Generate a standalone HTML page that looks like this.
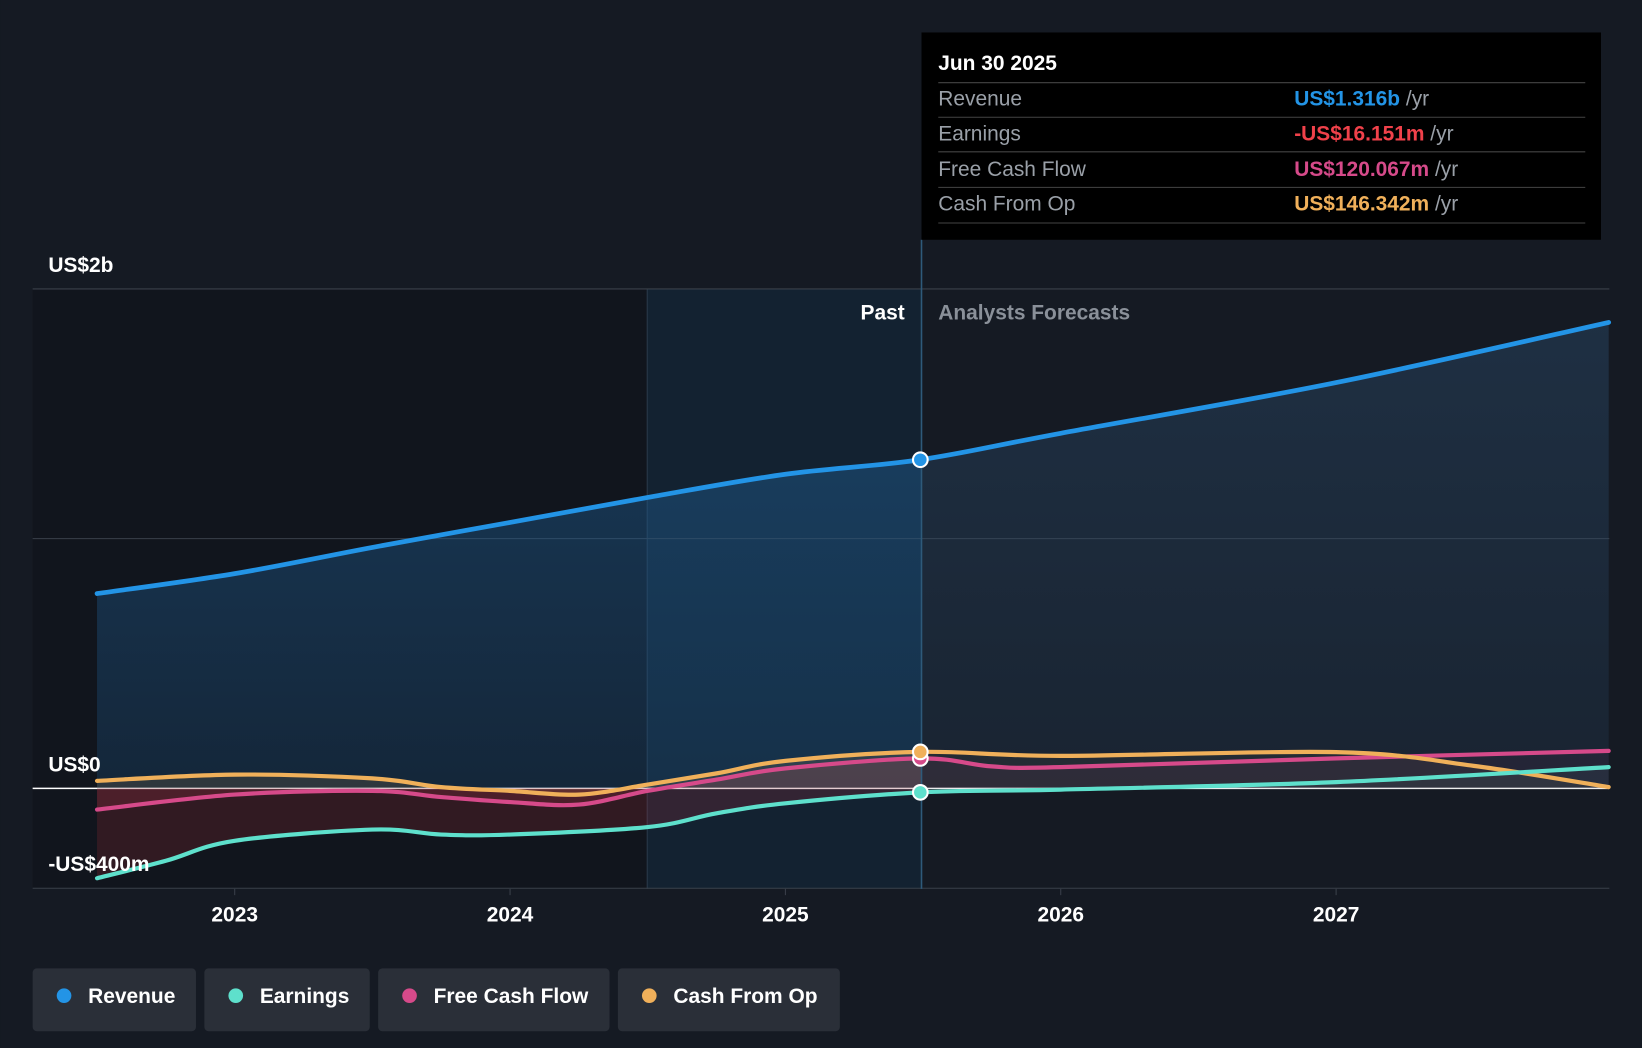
<!DOCTYPE html>
<html><head><meta charset="utf-8"><style>
html,body{margin:0;padding:0;background:#151a23;}
svg{display:block;font-family:"Liberation Sans",sans-serif;}
</style></head><body>
<svg id="chart" width="1642" height="1048" viewBox="0 0 1568 1001" xmlns="http://www.w3.org/2000/svg">
<defs>
<linearGradient id="revPast" x1="0" y1="0" x2="0" y2="1"><stop offset="0" stop-color="#1e5b8f" stop-opacity="0.55"/><stop offset="1" stop-color="#1e5b8f" stop-opacity="0.25"/></linearGradient>
<linearGradient id="revFut" x1="0" y1="0" x2="0" y2="1"><stop offset="0" stop-color="#2a4a6a" stop-opacity="0.45"/><stop offset="1" stop-color="#2a4a6a" stop-opacity="0.2"/></linearGradient>
<clipPath id="pastClip"><rect x="0" y="0" width="880" height="1001"/></clipPath>
<clipPath id="futClip"><rect x="880" y="0" width="700" height="1001"/></clipPath>
</defs>
<rect x="0" y="0" width="1568" height="1001" fill="#151a23"/>
<rect x="31" y="276" width="587" height="573" fill="#11151d"/>
<rect x="618" y="276" width="262" height="573" fill="#13283b" opacity="0.6"/>
<line x1="618" y1="276" x2="618" y2="849" stroke="#2a3a4a" stroke-width="1"/>
<g id="grid"></g>
<g id="areas"></g>
<g id="lines"></g>
<line x1="880" y1="229" x2="880" y2="849" stroke="#2e5a7a" stroke-width="1.5"/>
<text x="864" y="305" fill="#ffffff" font-size="20" font-weight="bold" text-anchor="end">Past</text>
<text x="896" y="305" fill="#8a9099" font-size="20" font-weight="bold">Analysts Forecasts</text>
<g id="dots"></g>
<g id="xticks"></g>
<text x="46" y="260" fill="#fff" font-size="20" font-weight="bold">US$2b</text>
<text x="46" y="737" fill="#fff" font-size="20" font-weight="bold">US$0</text>
<text x="46" y="832" fill="#fff" font-size="20" font-weight="bold">-US$400m</text>
<g>
<rect x="880" y="31" width="649" height="198" fill="#000"/>
<text x="896" y="67" fill="#fff" font-size="20" font-weight="bold">Jun 30 2025</text>
<line x1="896" y1="79" x2="1514" y2="79" stroke="#444"/>
<text x="896" y="101" fill="#9aa0a8" font-size="20">Revenue</text>
<text x="1236" y="101" font-size="20"><tspan fill="#2394e6" font-weight="bold">US$1.316b</tspan><tspan fill="#9aa0a8"> /yr</tspan></text>
<line x1="896" y1="112" x2="1514" y2="112" stroke="#444"/>
<text x="896" y="134" fill="#9aa0a8" font-size="20">Earnings</text>
<text x="1236" y="134" font-size="20"><tspan fill="#f0414a" font-weight="bold">-US$16.151m</tspan><tspan fill="#9aa0a8"> /yr</tspan></text>
<line x1="896" y1="145" x2="1514" y2="145" stroke="#444"/>
<text x="896" y="168" fill="#9aa0a8" font-size="20">Free Cash Flow</text>
<text x="1236" y="168" font-size="20"><tspan fill="#d64a8a" font-weight="bold">US$120.067m</tspan><tspan fill="#9aa0a8"> /yr</tspan></text>
<line x1="896" y1="179" x2="1514" y2="179" stroke="#444"/>
<text x="896" y="201" fill="#9aa0a8" font-size="20">Cash From Op</text>
<text x="1236" y="201" font-size="20"><tspan fill="#f0b05a" font-weight="bold">US$146.342m</tspan><tspan fill="#9aa0a8"> /yr</tspan></text>
<line x1="896" y1="213" x2="1514" y2="213" stroke="#444"/>
</g>
<g>
<g><rect x="31" y="925" width="156" height="60" rx="4" fill="#2a2f38"/><circle cx="61" cy="951" r="7" fill="#2394e6"/><text x="84" y="958" fill="#fff" font-size="20" font-weight="bold">Revenue</text></g>
<g><rect x="195" y="925" width="158" height="60" rx="4" fill="#2a2f38"/><circle cx="225" cy="951" r="7" fill="#5ee0cc"/><text x="248" y="958" fill="#fff" font-size="20" font-weight="bold">Earnings</text></g>
<g><rect x="361" y="925" width="221" height="60" rx="4" fill="#2a2f38"/><circle cx="391" cy="951" r="7" fill="#d64a8a"/><text x="414" y="958" fill="#fff" font-size="20" font-weight="bold">Free Cash Flow</text></g>
<g><rect x="590" y="925" width="212" height="60" rx="4" fill="#2a2f38"/><circle cx="620" cy="951" r="7" fill="#f0b05a"/><text x="643" y="958" fill="#fff" font-size="20" font-weight="bold">Cash From Op</text></g>
</g>
</svg>
<script>
const revYears=[2022.5,2023,2023.5,2024,2024.5,2025,2025.49,2026,2027,2027.99];
const revenue=[780,860,965,1065,1165,1258,1316,1422,1625,1866];
const earnYears=[2022.5,2022.75,2023,2023.5,2023.75,2024,2024.5,2024.75,2025,2025.49,2026,2027,2027.99];
const earnings=[-360,-290,-210,-165,-185,-185,-155,-100,-60,-16,-5,25,85];
const fcfYears=[2022.5,2023,2023.5,2023.75,2024,2024.25,2024.5,2024.75,2025,2025.49,2025.75,2026,2027,2027.99];
const fcf=[-85,-25,-10,-35,-55,-65,-10,35,80,120,88,85,120,150];
const cfoYears=[2022.5,2023,2023.5,2023.75,2024,2024.25,2024.5,2024.75,2025,2025.49,2026,2027,2027.5,2027.99];
const cfo=[30,55,40,5,-10,-25,15,60,110,146,130,145,90,5];
const xTickYears=[2023,2024,2025,2026,2027];
const gridValues=[2000,1000,0,-400];
const NS="http://www.w3.org/2000/svg";
function xs(y){return 224+(y-2023)*263;}
function ys(v){return 753-v*0.2385;}
function mk(tag,attrs,parent){const e=document.createElementNS(NS,tag);for(const k in attrs)e.setAttribute(k,attrs[k]);parent.appendChild(e);return e;}
function smooth(pts){let d="M"+pts[0][0]+","+pts[0][1];for(let i=0;i<pts.length-1;i++){const p0=pts[i-1]||pts[i],p1=pts[i],p2=pts[i+1],p3=pts[i+2]||p2;const c1x=p1[0]+(p2[0]-p0[0])/6,c1y=p1[1]+(p2[1]-p0[1])/6,c2x=p2[0]-(p3[0]-p1[0])/6,c2y=p2[1]-(p3[1]-p1[1])/6;d+=" C"+c1x+","+c1y+" "+c2x+","+c2y+" "+p2[0]+","+p2[1];}return d;}
const grid=document.getElementById('grid');
gridValues.forEach(v=>{const l=mk('line',{x1:31,x2:1537,y1:ys(v),y2:ys(v),stroke:v===0?'#ffffff':'#3a404a','stroke-width':v===0?1.5:1},grid);

});
const xt=document.getElementById('xticks');
xTickYears.forEach(y=>{const t=mk('text',{x:xs(y),y:880,fill:'#fff','font-size':20,'font-weight':'bold','text-anchor':'middle'},xt);t.textContent=y;


mk('line',{x1:xs(y),x2:xs(y),y1:849,y2:855,stroke:'#3a404a'},xt);});
const areas=document.getElementById('areas'),lines=document.getElementById('lines'),dots=document.getElementById('dots');
function series(name,years,vals,color,fillPast,fillFut,width){
 const pts=years.map((y,i)=>[xs(y),ys(vals[i])]);const d=smooth(pts);
 const base=ys(0);const ad=d+" L"+pts[pts.length-1][0]+","+base+" L"+pts[0][0]+","+base+" Z";
 const a1=mk('path',{d:ad,fill:fillPast,'clip-path':'url(#pastClip)'},areas);
 
 
 const a2=mk('path',{d:ad,fill:fillFut,'clip-path':'url(#futClip)'},areas);
 
 
 const l=mk('path',{d:d,fill:'none',stroke:color,'stroke-width':width,'stroke-linecap':'round'},lines);
 
 
 const idx=years.indexOf(2025.49);
 const c=mk('circle',{cx:xs(years[idx]),cy:ys(vals[idx]),r:7,fill:color,stroke:'#fff','stroke-width':2},dots);
 
 
}
series('revenue',revYears,revenue,'#2394e6','url(#revPast)','url(#revFut)',4.5);
series('free-cash-flow',fcfYears,fcf,'#d64a8a','rgba(200,60,90,0.18)','rgba(214,74,138,0.06)',4);
series('cash-from-op',cfoYears,cfo,'#f0b05a','rgba(240,176,90,0.12)','rgba(240,176,90,0.05)',4);
series('earnings',earnYears,earnings,'#5ee0cc','rgba(200,50,60,0.18)','rgba(94,224,204,0.05)',4);
</script>
</body></html>
